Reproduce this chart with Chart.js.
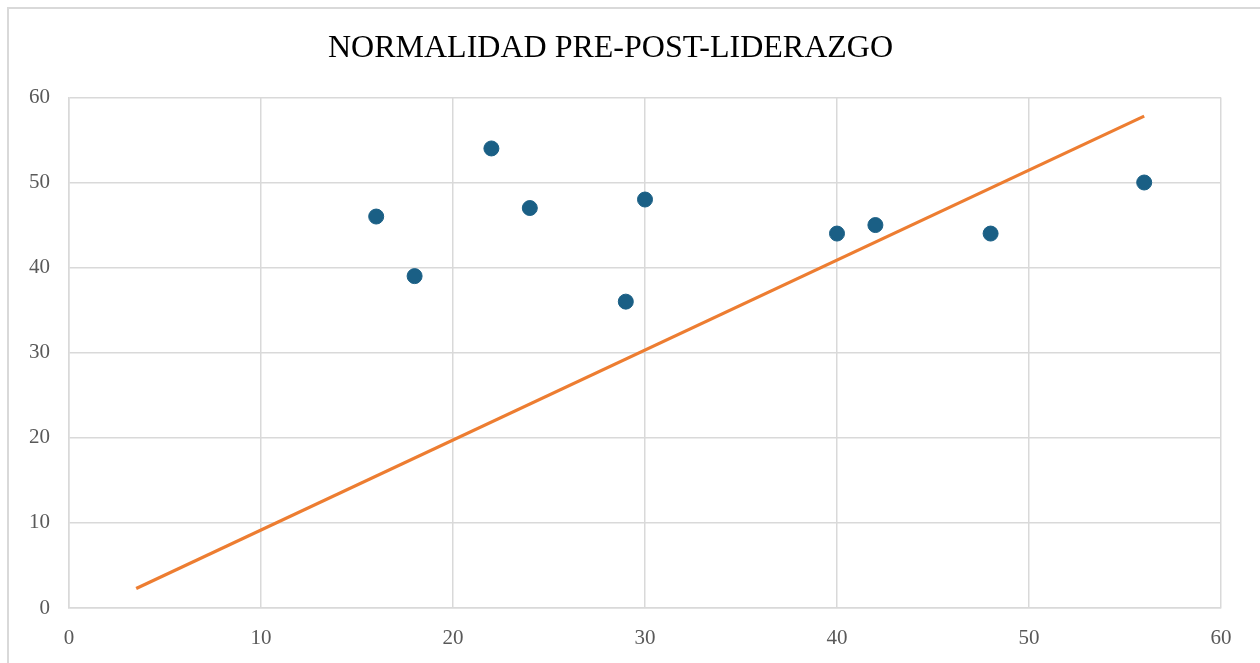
<!DOCTYPE html>
<html>
<head>
<meta charset="utf-8">
<script src="https://cdn.jsdelivr.net/npm/chart.js@4"></script>
<style>
body{margin:0;background:#fff;overflow:hidden;}
#frame{position:absolute;left:7px;top:7px;width:1300px;height:700px;border-left:2px solid #d9d9d9;border-top:2px solid #d9d9d9;}
#c{position:absolute;left:0;top:0;}
</style>
</head>
<body>
<div id="frame"></div>
<canvas id="c" width="1260" height="663"></canvas>
<script>
let preX=[16, 18, 22, 24, 29, 30, 40, 42, 48, 56];
let postY=[46, 39, 54, 47, 36, 48, 44, 45, 44, 50];
let trendX=[3.5, 56];
let trendY=[2.3, 57.8];
let title='NORMALIDAD PRE-POST-LIDERAZGO';

let pts=[];
for(let i=0;i<preX.length;i++){
  pts.push({x:preX[i], y:postY[i]});
}
let trend=[];
for(let i=0;i<trendX.length;i++){
  trend.push({x:trendX[i], y:trendY[i]});
}

let ctx=document.getElementById('c').getContext('2d');
let myChart=new Chart(ctx, {
  type:'scatter',
  data:{
    datasets:[{
      label:'Datos',
      data:pts,
      backgroundColor:'#1a5f85',
      borderColor:'#1a5f85',
      pointRadius:7.5,
      order:1
    },{
      label:'Tendencia',
      data:trend,
      showLine:true,
      borderColor:'#ED7D31',
      borderWidth:3.2,
      pointRadius:0,
      order:2
    }]
  },
  options:{
    responsive:false,
    animation:false,
    layout:{padding:{left:0, right:39, top:0, bottom:0}},
    scales:{
      x:{
        type:'linear',
        min:0, max:60,
        ticks:{stepSize:10, color:'#595959', padding:18, font:{family:'Liberation Serif', size:21}},
        grid:{color:'#d9d9d9', lineWidth:1.5, drawTicks:false},
        border:{color:'#d9d9d9', width:1.5},
        afterFit:(a)=>{a.height=55;}
      },
      y:{
        min:0, max:60,
        ticks:{stepSize:10, color:'#595959', padding:19, font:{family:'Liberation Serif', size:21}},
        grid:{color:'#d9d9d9', lineWidth:1.5, drawTicks:false},
        border:{color:'#d9d9d9', width:1.5},
        afterFit:(a)=>{a.width=69;}
      }
    },
    plugins:{
      legend:{display:false},
      tooltip:{enabled:false},
      title:{
        display:true,
        text:title,
        color:'#000',
        font:{family:'Liberation Serif', size:32, weight:'normal'},
        padding:{top:29, bottom:30}
      }
    }
  }
});
</script>
</body>
</html>
